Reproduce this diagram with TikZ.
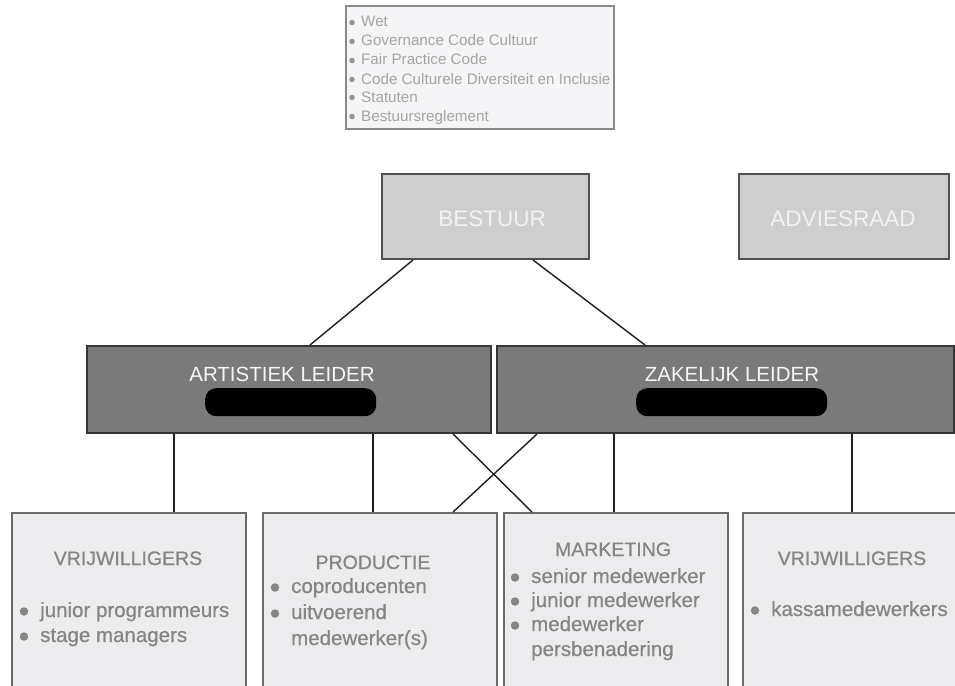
\documentclass[tikz,border=0pt]{standalone}
\usepackage{fontspec}
\setmainfont{Liberation Sans}
\newfontfamily\heavier[FakeBold=0.6]{Liberation Sans}
\definecolor{topfill}{HTML}{F5F5F7}
\definecolor{topline}{HTML}{8A8A8A}
\definecolor{toptext}{HTML}{A4A4A4}
\definecolor{lightfill}{HTML}{CECECE}
\definecolor{lightline}{HTML}{505050}
\definecolor{darkfill}{HTML}{7A7A7A}
\definecolor{darkline}{HTML}{363636}
\definecolor{unitfill}{HTML}{ECECEE}
\definecolor{unitline}{HTML}{6A6A6A}
\definecolor{unittext}{HTML}{858585}
\definecolor{connc}{HTML}{1E1E1E}
\begin{document}
\begin{tikzpicture}[x=1pt,y=-1pt,
  boxbase/.style={rectangle,anchor=north west,inner sep=0pt,line width=2pt},
  topbox/.style={boxbase,draw=topline,fill=topfill},
  lightbox/.style={boxbase,draw=lightline,fill=lightfill},
  darkbox/.style={boxbase,draw=darkline,fill=darkfill},
  unitbox/.style={boxbase,draw=unitline,fill=unitfill},
  pill/.style={rectangle,fill=black,rounded corners=11pt,inner sep=0pt,anchor=north west},
  conn/.style={draw=connc,line width=1.4pt},
  tdot/.style={circle,fill=toptext!90!black,inner sep=0pt,minimum size=5.5pt},
  bdot/.style={circle,fill=unittext,inner sep=0pt,minimum size=8.5pt},
  toptxt/.style={anchor=base west,inner sep=0pt,text=toptext,font=\fontsize{15.2}{18}\selectfont},
  lighttxt/.style={anchor=base,inner sep=0pt,text=white!95!black,font=\fontsize{22.5}{26}\selectfont},
  darktxt/.style={anchor=base,inner sep=0pt,text=white!96!black,font=\fontsize{20.5}{24}\selectfont},
  unittitle/.style={anchor=base,inner sep=0pt,text=unittext,font=\heavier\fontsize{19.5}{22}\selectfont},
  unititem/.style={anchor=base west,inner sep=0pt,text=unittext,font=\heavier\fontsize{20.5}{22}\selectfont},
]
\useasboundingbox (0,0) rectangle (955,685);
\fill[white] (0,0) rectangle (955,685);
\clip (0,0) rectangle (955,685);

% top document box
\node[topbox,minimum width=268pt,minimum height=123pt] (docs) at (345,5) {};
\node[tdot] (d1b) at (352,22.5) {};
\node[tdot] (d2b) at (352,41.5) {};
\node[tdot] (d3b) at (352,60.5) {};
\node[tdot] (d4b) at (352,79.5) {};
\node[tdot] (d5b) at (352,97.5) {};
\node[tdot] (d6b) at (352,116.5) {};
\node[toptxt] (d1) at (361,27) {Wet};
\node[toptxt] (d2) at (361,46) {Governance Code Cultuur};
\node[toptxt] (d3) at (361,65) {Fair Practice Code};
\node[toptxt] (d4) at (361,84) {Code Culturele Diversiteit en Inclusie};
\node[toptxt] (d5) at (361,102) {Statuten};
\node[toptxt] (d6) at (361,121) {Bestuursreglement};

% board
\node[lightbox,minimum width=207pt,minimum height=85pt] (bestuur) at (381,173) {};
\node[lighttxt] (bestuurt) at (492,226) {BESTUUR};
\node[lightbox,minimum width=210pt,minimum height=85pt] (advies) at (738,173) {};
\node[lighttxt] (adviest) at (843,226) {ADVIESRAAD};

% leaders
\node[darkbox,minimum width=404pt,minimum height=87pt] (art) at (86,345) {};
\node[darktxt] (artt) at (282,381) {ARTISTIEK LEIDER};
\node[pill,minimum width=171pt,minimum height=28pt] (artpill) at (205,388) {};
\node[darkbox,minimum width=457pt,minimum height=87pt] (zak) at (496,345) {};
\node[darktxt] (zakt) at (732,381) {ZAKELIJK LEIDER};
\node[pill,minimum width=191pt,minimum height=28pt] (zakpill) at (636,388) {};

% units
\node[unitbox,minimum width=234pt,minimum height=190pt] (u1) at (11,512) {};
\node[unitbox,minimum width=234pt,minimum height=190pt] (u2) at (262,512) {};
\node[unitbox,minimum width=224pt,minimum height=190pt] (u3) at (503,512) {};
\node[unitbox,minimum width=230pt,minimum height=190pt] (u4) at (742,512) {};

\node[unittitle] (u1t) at (128,565) {VRIJWILLIGERS};
\node[bdot] (u1ab) at (24,611.5) {};
\node[bdot] (u1bb) at (24,636.5) {};
\node[unititem] (u1a) at (40,617) {junior programmeurs};
\node[unititem] (u1b) at (40,642) {stage managers};

\node[unittitle] (u2t) at (373,569) {PRODUCTIE};
\node[bdot] (u2ab) at (275,587.5) {};
\node[bdot] (u2bb) at (275,613.5) {};
\node[unititem] (u2a) at (291,593) {coproducenten};
\node[unititem] (u2b) at (291,619) {uitvoerend};
\node[unititem] (u2c) at (291,645) {medewerker(s)};

\node[unittitle] (u3t) at (613,556) {MARKETING};
\node[bdot] (u3ab) at (515,577.5) {};
\node[bdot] (u3bb) at (515,601.5) {};
\node[bdot] (u3cb) at (515,625.5) {};
\node[unititem] (u3a) at (531,583) {senior medewerker};
\node[unititem] (u3b) at (531,607) {junior medewerker};
\node[unititem] (u3c) at (531,631) {medewerker};
\node[unititem] (u3d) at (531,656) {persbenadering};

\node[unittitle] (u4t) at (852,565) {VRIJWILLIGERS};
\node[bdot] (u4ab) at (755,610.5) {};
\node[unititem] (u4a) at (771,616) {kassamedewerkers};

% connectors
\draw[conn] ([xshift=32pt]bestuur.south west) -- ([xshift=224pt]art.north west);
\draw[conn] ([xshift=152pt]bestuur.south west) -- ([xshift=149pt]zak.north west);
\draw[conn] ([xshift=88pt]art.south west) -- ([xshift=163pt]u1.north west);
\draw[conn] ([xshift=287pt]art.south west) -- ([xshift=111pt]u2.north west);
\draw[conn] ([xshift=367pt]art.south west) -- ([xshift=29pt]u3.north west);
\draw[conn] ([xshift=41pt]zak.south west) -- ([xshift=191pt]u2.north west);
\draw[conn] ([xshift=118pt]zak.south west) -- ([xshift=111pt]u3.north west);
\draw[conn] ([xshift=356pt]zak.south west) -- ([xshift=110pt]u4.north west);
\end{tikzpicture}
\end{document}
